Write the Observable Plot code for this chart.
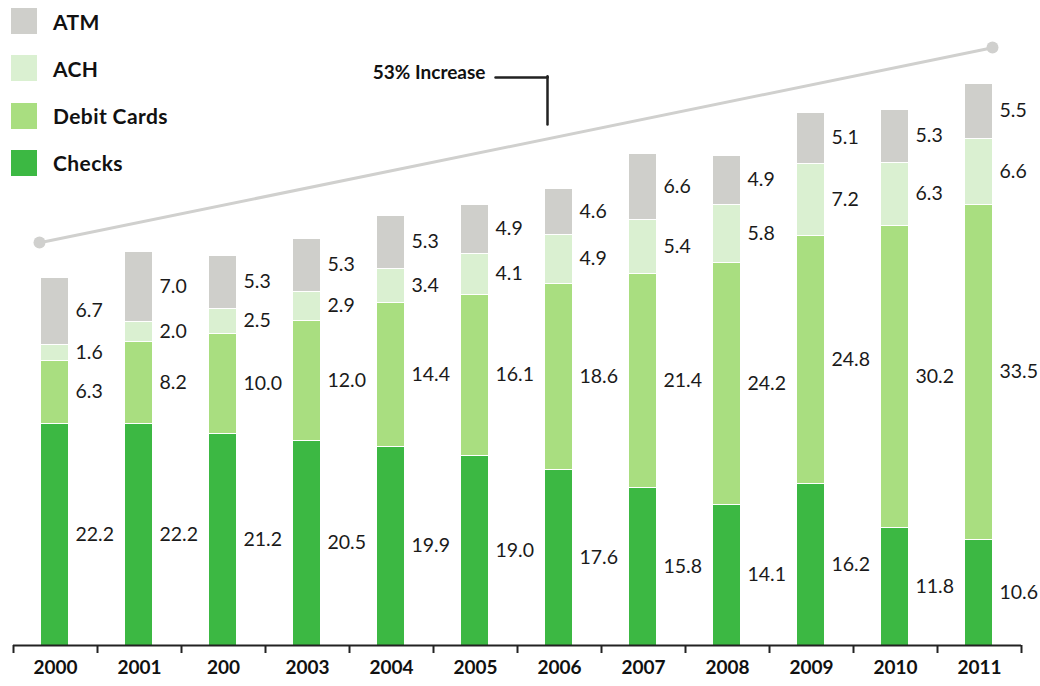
<!DOCTYPE html>
<html>
<head>
<meta charset="utf-8">
<script src="https://cdn.jsdelivr.net/npm/d3@7"></script>
<script src="https://cdn.jsdelivr.net/npm/@observablehq/plot@0.6"></script>
<style>
  html, body { margin: 0; padding: 0; background: #fff; }
  #wrap { position: relative; width: 1040px; height: 686px; font-family: Lato, "Open Sans", sans-serif; }
  #legend { position: absolute; left: 11px; top: 8px; z-index: 2; }
  .item { position: absolute; left: 0; height: 26px; display: flex; align-items: center; white-space: nowrap; }
  .sw { width: 26px; height: 26px; margin-right: 16px; }
  .lab { font-size: 21px; font-weight: 700; color: #111; letter-spacing: 0.4px; }
  #chart svg g[aria-label="x-axis tick label"] text { font-weight: 700; font-size: 19px; }
</style>
</head>
<body>
<div id="wrap">
  <div id="legend"></div>
  <div id="chart"></div>
</div>
<script>
const years = ["2000","2001","200","2003","2004","2005","2006","2007","2008","2009","2010","2011"];
const types = ["Checks","Debit Cards","ACH","ATM"];
const checks = [22.2,22.2,21.2,20.5,19.9,19.0,17.6,15.8,14.1,16.2,11.8,10.6];
const debit  = [6.3,8.2,10.0,12.0,14.4,16.1,18.6,21.4,24.2,24.8,30.2,33.5];
const ach    = [1.6,2.0,2.5,2.9,3.4,4.1,4.9,5.4,5.8,7.2,6.3,6.6];
const atm    = [6.7,7.0,5.3,5.3,5.3,4.9,4.6,6.6,4.9,5.1,5.3,5.5];
const colors = ["#3cb843","#a9de80","#daf0d1","#cfcfcb"];
const legendOrder = ["ATM","ACH","Debit Cards","Checks"];

// trend line (values read at the band centres, dots at the ends)
const trendYears = ["2000","2011"];
const trendValues = [40.6, 59.5];
const trendDots = [40.3, 59.8];
const annotationText = "53% Increase";
const annotationYears = ["2005","2006"];
const annotationValues = [56.8, 52.1];

const series = [checks, debit, ach, atm];
const data = [];
years.forEach((yr, i) => {
  types.forEach((t, j) => data.push({year: yr, type: t, value: series[j][i]}));
});

// legend
const legend = document.getElementById("legend");
legendOrder.forEach((t, k) => {
  const it = document.createElement("div");
  it.className = "item";
  it.style.top = (k * 47.3) + "px";
  const sw = document.createElement("div");
  sw.className = "sw";
  sw.style.background = colors[types.indexOf(t)];
  const lb = document.createElement("span");
  lb.className = "lab";
  lb.textContent = t;
  it.appendChild(sw); it.appendChild(lb);
  legend.appendChild(it);
});

const ink = "#222";
const chart = Plot.plot({
  width: 1040,
  height: 686,
  marginTop: 45,
  marginBottom: 41,
  marginLeft: 13,
  marginRight: 19,
  style: {fontFamily: "Lato, 'Open Sans', sans-serif", background: "#fff", overflow: "visible"},
  x: {type: "band", domain: years, padding: 0, label: null},
  y: {domain: [0, 60], axis: null},
  color: {domain: types, range: colors},
  marks: [
    Plot.barY(data, {x: "year", y: "value", fill: "type", insetLeft: 28, insetRight: 29, insetTop: 1}),
    Plot.text(data, Plot.stackY({
      x: "year", y: "value", z: "type",
      text: d => d.value.toFixed(1),
      dx: 20, textAnchor: "start", fontSize: 19.5, fill: "#1a1a1a"
    })),
    // trend line
    Plot.arrow([0], {
      x1: () => trendYears[0], y1: () => trendValues[0],
      x2: () => trendYears[1], y2: () => trendValues[1],
      stroke: "#d0d0ce", strokeWidth: 3, headLength: 0,
      insetStart: -16.3, insetEnd: -13.3
    }),
    Plot.dot([0], {x: () => trendYears[0], y: () => trendDots[0], r: 6, fill: "#d0d0ce", dx: -16}),
    Plot.dot([0], {x: () => trendYears[1], y: () => trendDots[1], r: 6, fill: "#d0d0ce", dx: 13}),
    // annotation
    Plot.text([0], {x: () => annotationYears[0], y: () => 57.3, text: () => annotationText,
      dx: 10, textAnchor: "end", fontSize: 19, fontWeight: "bold", fill: "#111"}),
    Plot.arrow([0], {
      x1: () => annotationYears[0], y1: () => annotationValues[0],
      x2: () => annotationYears[1], y2: () => annotationValues[0],
      dx: -12, insetStart: 32, headLength: 0, stroke: ink, strokeWidth: 2.5
    }),
    Plot.arrow([0], {
      x1: () => annotationYears[1], y1: () => annotationValues[0],
      x2: () => annotationYears[1], y2: () => annotationValues[1],
      dx: -12, insetStart: -1.2, headLength: 0, stroke: ink, strokeWidth: 2.5
    }),
    // x axis
    Plot.ruleY([0], {stroke: ink, strokeWidth: 2}),
    Plot.ruleX(years, {x: d => d, y1: 0, y2: -0.8, dx: -42, stroke: ink, strokeWidth: 2}),
    Plot.ruleX([years[years.length - 1]], {x: d => d, y1: 0, y2: -0.8, dx: 42, stroke: ink, strokeWidth: 2}),
    Plot.axisX({tickSize: 0, tickPadding: 15, fontSize: 19, fontWeight: "bold", fill: "#111", label: null})
  ]
});
document.getElementById("chart").appendChild(chart);
</script>
</body>
</html>
